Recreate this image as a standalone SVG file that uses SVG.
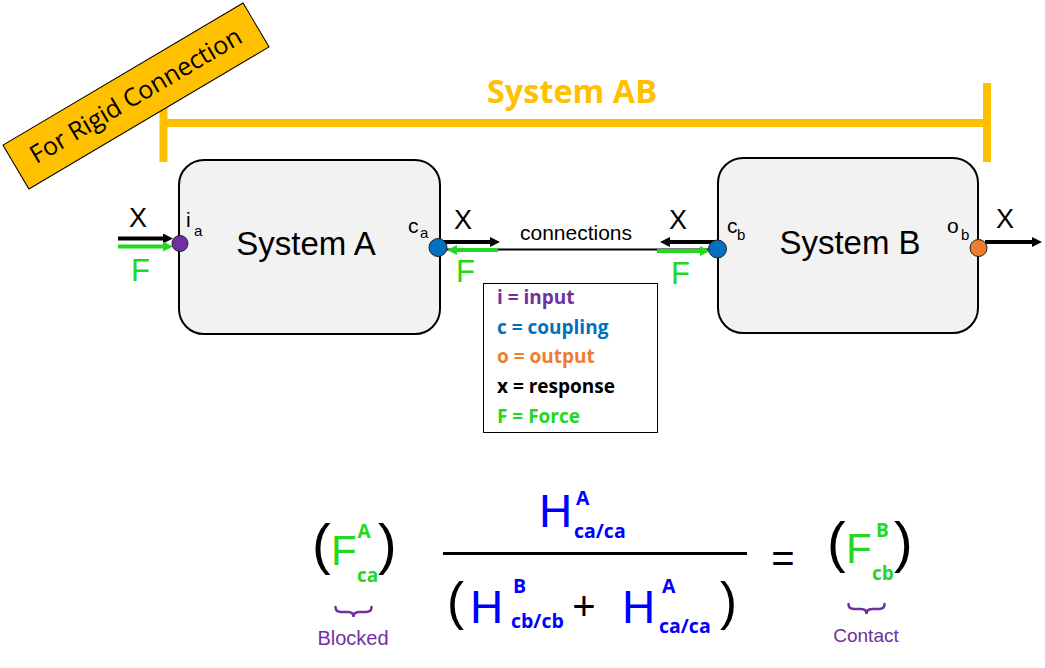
<svg xmlns="http://www.w3.org/2000/svg" width="1045" height="668" viewBox="0 0 1045 668">
<style>
.sans{font-family:"Liberation Sans",Arial,sans-serif}
.bold{font-family:"Open Sans","Liberation Sans",sans-serif;font-weight:bold}
.box{fill:#F2F2F2;stroke:#000;stroke-width:2}
.bar{stroke:#FFC000;stroke-width:8;fill:none}
.ak{stroke:#000;stroke-width:4;fill:none}
.ag{stroke:#22D822;stroke-width:4;fill:none}
.port{stroke:#222;stroke-width:1}
.brace{stroke:#7030A0;stroke-width:2.5;fill:none;stroke-linecap:round}
</style>
<defs>
<marker id="hk" markerUnits="userSpaceOnUse" markerWidth="11" markerHeight="11" refX="4" refY="5" orient="auto"><path d="M0,0 L10,5 L0,10 z" fill="#000"/></marker>
<marker id="hg" markerUnits="userSpaceOnUse" markerWidth="11" markerHeight="11" refX="4" refY="5" orient="auto"><path d="M0,0 L10,5 L0,10 z" fill="#22D822"/></marker>
</defs>
<rect width="1045" height="668" fill="#fff"/>

<g id="system-ab">
<line class="bar" x1="163.5" y1="105" x2="163.5" y2="162"/>
<line class="bar" x1="160" y1="123" x2="991" y2="123"/>
<line class="bar" x1="987" y1="83" x2="987" y2="162"/>
<text class="bold" x="572" y="103" font-size="32" fill="#FFC000" text-anchor="middle" textLength="170" lengthAdjust="spacingAndGlyphs">System AB</text>
</g>

<g id="rigid-label" transform="translate(136,96) rotate(-30.6)">
<rect x="-139.5" y="-25.5" width="279" height="51" fill="#FFC000" stroke="#000" stroke-width="1"/>
<text x="0" y="8" font-family="'Open Sans','Liberation Sans',sans-serif" font-size="25" fill="#000" text-anchor="middle">For Rigid Connection</text>
</g>

<g id="connectors">
<line class="ak" x1="118" y1="238.5" x2="167" y2="238.5" marker-end="url(#hk)"/>
<line class="ag" x1="118" y1="246.5" x2="167" y2="246.5" marker-end="url(#hg)"/>
<line x1="440" y1="249.5" x2="715" y2="249.5" stroke="#000" stroke-width="2"/>
<line class="ak" x1="440" y1="242" x2="494" y2="242" marker-end="url(#hk)"/>
<line class="ag" x1="498" y1="250" x2="453" y2="250" marker-end="url(#hg)"/>
<line class="ak" x1="715" y1="242" x2="666" y2="242" marker-end="url(#hk)"/>
<line class="ag" x1="657" y1="251" x2="704" y2="251" marker-end="url(#hg)"/>
<line class="ak" x1="985" y1="242" x2="1036" y2="242" marker-end="url(#hk)"/>
<g class="sans" font-size="27" fill="#000">
<text x="129" y="227">X</text>
<text x="454" y="229">X</text>
<text x="669" y="229">X</text>
<text x="996" y="228">X</text>
</g>
<g class="sans" font-size="31" fill="#22D822">
<text x="131" y="281">F</text>
<text x="456" y="282">F</text>
<text x="671" y="284">F</text>
</g>
<text class="sans" x="576" y="240" font-size="21" fill="#000" text-anchor="middle">connections</text>
</g>

<g id="system-a">
<rect class="box" x="179" y="160" width="261" height="174" rx="25" ry="25"/>
<text class="sans" x="306" y="255" font-size="33" fill="#000" text-anchor="middle">System A</text>
<circle class="port" cx="180" cy="243.5" r="8" fill="#7030A0"/>
<circle class="port" cx="438" cy="247.5" r="9" fill="#0070C0"/>
<text class="sans" x="186" y="227" font-size="21" fill="#000">i</text>
<text class="sans" x="194" y="236" font-size="15" fill="#000">a</text>
<text class="sans" x="408" y="233" font-size="21" fill="#000">c</text>
<text class="sans" x="420" y="238" font-size="15" fill="#000">a</text>
</g>

<g id="system-b">
<rect class="box" x="718" y="158" width="260" height="175" rx="25" ry="25"/>
<text class="sans" x="850" y="254" font-size="33" fill="#000" text-anchor="middle">System B</text>
<circle class="port" cx="717.5" cy="249" r="9" fill="#0070C0"/>
<circle class="port" cx="978.5" cy="248" r="8.5" fill="#ED7D31"/>
<text class="sans" x="727" y="233" font-size="21" fill="#000">c</text>
<text class="sans" x="737" y="240" font-size="15" fill="#000">b</text>
<text class="sans" x="947" y="233" font-size="21" fill="#000">o</text>
<text class="sans" x="961" y="240" font-size="15" fill="#000">b</text>
</g>

<g id="legend">
<rect x="483.5" y="283.5" width="174" height="149" fill="#fff" stroke="#000" stroke-width="1"/>
<g class="bold" font-size="19">
<text x="497" y="304" fill="#7030A0">i = input</text>
<text x="497" y="334" fill="#0070C0">c = coupling</text>
<text x="497" y="363" fill="#ED7D31">o = output</text>
<text x="497" y="393" fill="#000">x = response</text>
<text x="497" y="423" fill="#22D822">F = Force</text>
</g>
</g>

<g id="equation">
<g class="sans" fill="#000">
<text x="312" y="563" font-size="56">(</text>
<text x="378" y="563" font-size="56">)</text>
<text x="447" y="619" font-size="51">(</text>
<text x="720" y="619" font-size="51">)</text>
<text x="584" y="620" font-size="40" text-anchor="middle">+</text>
<text x="783" y="572" font-size="40" text-anchor="middle">=</text>
<text x="827" y="561" font-size="56">(</text>
<text x="894" y="561" font-size="56">)</text>
</g>
<line x1="443" y1="553.5" x2="747" y2="553.5" stroke="#000" stroke-width="3"/>
<g class="sans" font-size="42" fill="#22D822">
<text x="331" y="565">F</text>
<text x="846" y="563">F</text>
</g>
<g class="bold" font-size="19" fill="#22D822">
<text x="357.5" y="538">A</text>
<text x="357" y="582">ca</text>
<text x="876" y="537">B</text>
<text x="872" y="580">cb</text>
</g>
<g class="sans" font-size="46" fill="#0000FF">
<text x="539" y="527">H</text>
<text x="470" y="623">H</text>
<text x="622" y="623">H</text>
</g>
<g class="bold" font-size="19.5" fill="#0000FF">
<text x="576" y="505">A</text>
<text x="574" y="538">ca/ca</text>
<text x="513" y="593">B</text>
<text x="511" y="628">cb/cb</text>
<text x="662" y="593">A</text>
<text x="659" y="633">ca/ca</text>
</g>
<path class="brace" d="M335.5,607 Q335.5,612 341,612 L348,612 Q353.5,612 353.5,617 Q353.5,612 359,612 L366,612 Q371.5,612 371.5,607"/>
<path class="brace" d="M848.5,604 Q848.5,609 854,609 L861,609 Q866.5,609 866.5,614 Q866.5,609 872,609 L879,609 Q884.5,609 884.5,604"/>
<text class="sans" x="353" y="645" font-size="20" fill="#7030A0" text-anchor="middle">Blocked</text>
<text class="sans" x="866" y="642" font-size="19" fill="#7030A0" text-anchor="middle">Contact</text>
</g>
</svg>
